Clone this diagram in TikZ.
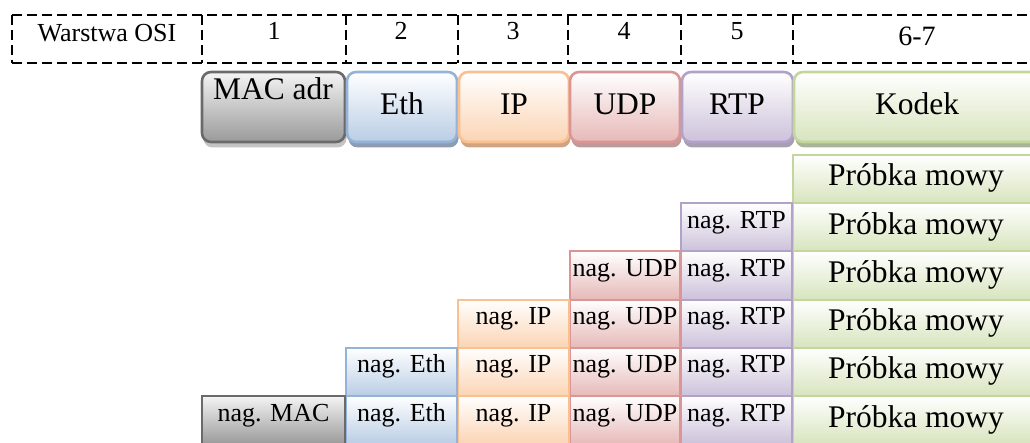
\documentclass[tikz,border=0pt]{standalone}
\usepackage{fontspec}
\setmainfont{Liberation Serif}
\definecolor{macB}{HTML}{6A6A6A}\definecolor{macT}{HTML}{F4F4F4}\definecolor{macF}{HTML}{9A9A9A}\definecolor{macS}{HTML}{C4C4C4}
\definecolor{ethB}{HTML}{95B3D7}\definecolor{ethF}{HTML}{B9CDE5}\definecolor{ethS}{HTML}{8C9CB2}
\definecolor{ipB}{HTML}{FAC090}\definecolor{ipF}{HTML}{FBD4B4}\definecolor{ipS}{HTML}{D0A483}
\definecolor{udpB}{HTML}{D99694}\definecolor{udpF}{HTML}{E6B9B8}\definecolor{udpS}{HTML}{C09A99}
\definecolor{rtpB}{HTML}{B3A2C7}\definecolor{rtpF}{HTML}{CCC1DA}\definecolor{rtpS}{HTML}{A89EB2}
\definecolor{kodB}{HTML}{C3D69B}\definecolor{kodF}{HTML}{D7E4BD}\definecolor{kodS}{HTML}{A9B595}
\tikzset{
  dashline/.style={draw=black, line width=2.2pt, dash pattern=on 10pt off 5pt},
  hdr/.style={line width=2.6pt, rounded corners=9pt},
  cellb/.style={line width=1.9pt},
  mac/.style={draw=macB, top color=macT, bottom color=macF},
  eth/.style={draw=ethB, top color=white, bottom color=ethF},
  ip/.style={draw=ipB, top color=white, bottom color=ipF},
  udp/.style={draw=udpB, top color=white, bottom color=udpF},
  rtp/.style={draw=rtpB, top color=white, bottom color=rtpF},
  kod/.style={draw=kodB, top color=white, bottom color=kodF},
  txtS/.style={anchor=base, inner sep=0pt, font=\fontsize{26}{26}\selectfont},
  txtM/.style={anchor=base, inner sep=0pt, font=\fontsize{28}{28}\selectfont},
  txtL/.style={anchor=base, inner sep=0pt, font=\fontsize{31.5}{31.5}\selectfont},
}
\newcommand\hdrbox[3]{%
  \fill[#1S, rounded corners=9pt] (#2+1.5,78) rectangle (#3+1.5,147.5);
  \path[hdr, #1] (#2,72) rectangle (#3,142);}
\begin{document}
\begin{tikzpicture}[x=1pt,y=-1pt]
\useasboundingbox (0,0) rectangle (1030,443);
% OSI layer row
\draw[dashline] (12,15) -- (1045,15);
\draw[dashline] (12,63) -- (1045,63);
\foreach \x in {12,202,346,458,568,681,793}{
  \draw[dashline] (\x,15) -- (\x,63);
}
\node[txtS] (osi) at (107,42) {Warstwa OSI};
\node[txtS] (l1) at (274,40) {1};
\node[txtS] (l2) at (401,40) {2};
\node[txtS] (l3) at (513,40) {3};
\node[txtS] (l4) at (624,40) {4};
\node[txtS] (l5) at (737,40) {5};
\node[txtM] (l67) at (917,46) {6-7};
% protocol headers
\hdrbox{mac}{202}{345}
\hdrbox{eth}{347}{457}
\hdrbox{ip}{459}{569}
\hdrbox{udp}{570}{680}
\hdrbox{rtp}{682}{793}
\hdrbox{kod}{794}{1045}
\node[txtL] (hmac) at (273,100) {MAC adr};
\node[txtL] (heth) at (402,115) {Eth};
\node[txtL] (hip) at (514,115) {IP};
\node[txtL] (hudp) at (625,115) {UDP};
\node[txtL] (hrtp) at (737,115) {RTP};
\node[txtL] (hkod) at (917,115) {Kodek};
% encapsulation rows
\foreach \t [count=\i] in {155,203.2,251.4,299.6,347.8,396}{
  \path[cellb, kod] (793,\t) rectangle (1045,\t+48.2);
  \node[txtL] (pr\i) at (916,\t+31) {Próbka mowy};
}
\foreach \t [count=\i] in {203.2,251.4,299.6,347.8,396}{
  \path[cellb, rtp] (681,\t) rectangle (792,\t+48.2);
  \node[txtS] (rtp\i) at (736.5,\t+25) {nag. RTP};
}
\foreach \t [count=\i] in {251.4,299.6,347.8,396}{
  \path[cellb, udp] (570,\t) rectangle (680,\t+48.2);
  \node[txtS] (udp\i) at (625,\t+25) {nag. UDP};
}
\foreach \t [count=\i] in {299.6,347.8,396}{
  \path[cellb, ip] (458,\t) rectangle (569,\t+48.2);
  \node[txtS] (ip\i) at (513.5,\t+25) {nag. IP};
}
\foreach \t [count=\i] in {347.8,396}{
  \path[cellb, eth] (346,\t) rectangle (457,\t+48.2);
  \node[txtS] (eth\i) at (401.5,\t+25) {nag. Eth};
}
\path[cellb, mac] (202,396) rectangle (345,444.2);
\node[txtS] (mac1) at (273.5,421) {nag. MAC};
\end{tikzpicture}
\end{document}
